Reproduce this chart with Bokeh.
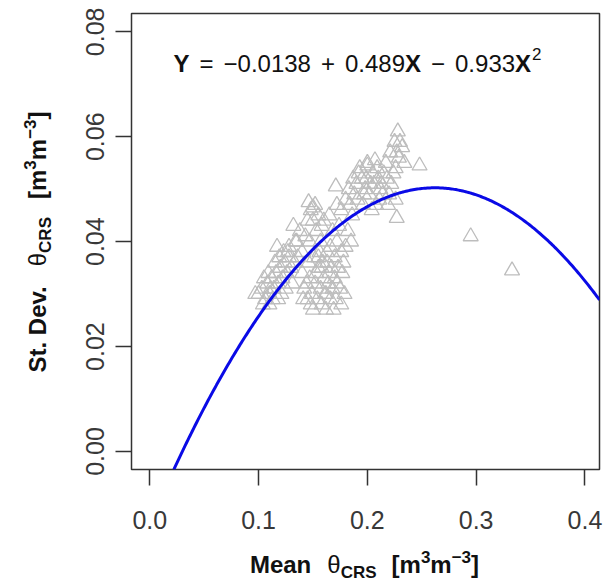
import math
import numpy as np
from bokeh.plotting import figure
from bokeh.models import Range1d, FixedTicker, Label, ColumnDataSource, Div
from bokeh.layouts import row, column
from bokeh.embed import file_html
from bokeh.resources import INLINE

# ---------------- data ----------------
mean_crs = [
    0.228, 0.225, 0.232, 0.221, 0.229, 0.226, 0.234, 0.248,
    0.200, 0.205, 0.195, 0.210, 0.215, 0.198, 0.202, 0.190, 0.188, 0.206,
    0.212, 0.218, 0.222, 0.226, 0.208, 0.196, 0.184, 0.180, 0.192, 0.214,
    0.219, 0.227, 0.200, 0.207, 0.186, 0.176, 0.172,
    0.193, 0.199, 0.203, 0.209, 0.213, 0.217, 0.211, 0.204, 0.191, 0.187,
    0.183, 0.197, 0.220, 0.224, 0.230, 0.227, 0.171,
    0.148, 0.152, 0.145, 0.150, 0.155, 0.158, 0.143, 0.147, 0.153, 0.160,
    0.165, 0.168, 0.138, 0.135, 0.128, 0.132, 0.140, 0.157, 0.146, 0.150,
    0.172, 0.176, 0.180, 0.178, 0.182, 0.174, 0.170, 0.185, 0.166, 0.163,
    0.100, 0.103, 0.106, 0.108, 0.110, 0.112, 0.114, 0.116, 0.118, 0.120,
    0.122, 0.124, 0.126, 0.128, 0.130, 0.115, 0.119, 0.110, 0.113, 0.105,
    0.121, 0.125, 0.127, 0.133, 0.136, 0.118, 0.109, 0.131, 0.123, 0.117,
    0.097, 0.104, 0.111, 0.134,
    0.140, 0.142, 0.145, 0.147, 0.149, 0.150, 0.152, 0.154, 0.155, 0.157,
    0.158, 0.160, 0.161, 0.162, 0.164, 0.165, 0.166, 0.168, 0.170, 0.171,
    0.173, 0.175, 0.177, 0.179, 0.146, 0.151, 0.156, 0.159, 0.163, 0.167,
    0.144, 0.148, 0.153, 0.169, 0.172, 0.176, 0.141, 0.158, 0.162, 0.155,
    0.295, 0.333,
]
sd_crs = [
    0.061, 0.059, 0.058, 0.057, 0.056, 0.054, 0.055, 0.0545,
    0.055, 0.053, 0.052, 0.052, 0.053, 0.050, 0.049, 0.051, 0.049, 0.051,
    0.050, 0.052, 0.051, 0.048, 0.047, 0.047, 0.047, 0.048, 0.053, 0.049,
    0.047, 0.0445, 0.0545, 0.0555, 0.045, 0.046, 0.047,
    0.054, 0.052, 0.051, 0.054, 0.051, 0.055, 0.048, 0.046, 0.048, 0.052,
    0.050, 0.049, 0.049, 0.053, 0.059, 0.057, 0.0505,
    0.046, 0.047, 0.044, 0.044, 0.045, 0.043, 0.041, 0.040, 0.042, 0.044,
    0.045, 0.042, 0.042, 0.040, 0.039, 0.043, 0.038, 0.040, 0.0475, 0.0465,
    0.040, 0.038, 0.039, 0.036, 0.042, 0.043, 0.037, 0.040, 0.039, 0.036,
    0.030, 0.031, 0.029, 0.032, 0.030, 0.033, 0.031, 0.034, 0.032, 0.035,
    0.033, 0.036, 0.034, 0.037, 0.035, 0.036, 0.037, 0.028, 0.029, 0.033,
    0.030, 0.031, 0.038, 0.036, 0.037, 0.029, 0.034, 0.032, 0.038, 0.039,
    0.030, 0.028, 0.031, 0.040,
    0.034, 0.031, 0.029, 0.033, 0.030, 0.027, 0.032, 0.029, 0.035, 0.031,
    0.028, 0.033, 0.030, 0.027, 0.032, 0.034, 0.029, 0.031, 0.033, 0.029,
    0.035, 0.031, 0.034, 0.030, 0.036, 0.037, 0.038, 0.036, 0.038, 0.035,
    0.032, 0.028, 0.034, 0.027, 0.032, 0.028, 0.029, 0.035, 0.030, 0.037,
    0.041, 0.0345,
]
fit_coef = [-0.0138, 0.489, -0.933]   # Y = a + bX + cX^2 (as printed on the chart)
x_ticks = [0.0, 0.1, 0.2, 0.3, 0.4]
x_tick_labels = ["0.0", "0.1", "0.2", "0.3", "0.4"]
y_ticks = [0.00, 0.02, 0.04, 0.06, 0.08]
y_tick_labels = ["0.00", "0.02", "0.04", "0.06", "0.08"]

# ---------------- layout ----------------
W, H = 603, 584
YT_W = 60            # width of the y-title strip
XT_H = 44            # height of the x-title strip
FW, FH = W - YT_W, H - XT_H           # figure size
FL, FR, FT, FB = 131, 599, 13, 469    # frame box in page pixels
X0, X1 = -0.0168, 0.4134
Y0, Y1 = -0.00343, 0.0835


def dx(px):
    return X0 + (px - FL) / (FR - FL) * (X1 - X0)


def dy(py):
    return Y1 - (py - FT) / (FB - FT) * (Y1 - Y0)


p = figure(width=FW, height=FH, output_backend="svg", toolbar_location=None,
           x_range=Range1d(X0, X1), y_range=Range1d(Y0, Y1))
p.min_border_left = FL - YT_W
p.min_border_right = W - FR
p.min_border_top = FT
p.min_border_bottom = FH - FB
p.background_fill_color = "white"
p.border_fill_color = "white"
p.xgrid.visible = False
p.ygrid.visible = False
p.outline_line_color = "#333333"
p.outline_line_width = 1.5

TICK_FONT = "'Liberation Sans', Arial, sans-serif"
for ax, ticks, labels in ((p.xaxis[0], x_ticks, x_tick_labels),
                          (p.yaxis[0], y_ticks, y_tick_labels)):
    ax.ticker = FixedTicker(ticks=ticks)
    ax.major_label_overrides = {t: l for t, l in zip(ticks, labels)}
    ax.minor_tick_line_color = None
    ax.axis_line_color = None
    ax.major_tick_in = 0
    ax.major_tick_out = 16
    ax.major_tick_line_color = "#333333"
    ax.major_tick_line_width = 1.5
    ax.major_label_text_font = TICK_FONT
    ax.major_label_text_font_size = "25px"
    ax.major_label_text_color = "#383838"
p.xaxis.major_label_standoff = 25
p.yaxis.major_label_standoff = 11
p.yaxis.major_label_orientation = "vertical"

# scatter points
src = ColumnDataSource(data=dict(x=mean_crs, y=sd_crs))
p.scatter("x", "y", source=src, marker="triangle", size=15,
          fill_color=None, line_color="#BDBDBD", line_width=1.3)

# fitted curve
a, b, c = fit_coef
x_start = (-b + math.sqrt(b * b - 4 * c * (a - Y0))) / (2 * c)
xf = np.linspace(x_start, X1, 300)
yf = a + b * xf + c * xf ** 2
p.line(xf, yf, line_color="#0A0AE6", line_width=3)

# ---------------- equation (inside the frame) ----------------
REG_W = {'.': 278, ' ': 278, '+': 584, '=': 584, '\u2212': 584, 'Y': 667,
         'X': 667}
BOLD_W = {'X': 667, 'Y': 667}


def text_w(s, bold, size):
    tab = BOLD_W if bold else REG_W
    return sum(tab.get(ch, 556) for ch in s) * size / 1000.0


FONT = "Liberation Sans"
COLOR = "#111111"


def hrow(pieces, start_px, base_py):
    px = start_px
    for txt, bold, size, shift, gap in pieces:
        px += gap
        p.add_layout(Label(x=dx(px), y=dy(base_py + shift),
                           text=txt, text_font=FONT,
                           text_font_size=f"{size}px",
                           text_font_style="bold" if bold else "normal",
                           text_color=COLOR, text_align="left",
                           text_baseline="alphabetic"))
        px += text_w(txt, bold, size)


MS, SS = 24, 17
eq = [("Y", True, MS, 0, 0), ("=", False, MS, 0, 10),
      ("\u22120.0138", False, MS, 0, 10), ("+", False, MS, 0, 10),
      ("0.489", False, MS, 0, 10), ("X", True, MS, 0, 0),
      ("\u2212", False, MS, 0, 10), ("0.933", False, MS, 0, 10),
      ("X", True, MS, 0, 0), ("2", False, SS, -10, 1)]
hrow(eq, 173, 63)

# ---------------- axis titles (rich text) ----------------
SUB = "font-size:17px;position:relative;top:5px;line-height:0;"
SUP = "font-size:17px;position:relative;top:-10px;line-height:0;"


def title_core(gap_theta, gap_unit):
    return (
        f'<span style="font-weight:normal;margin-left:{gap_theta}px;">\u03b8</span>'
        f'<span style="{SUB}">CRS</span>'
        f'<span style="margin-left:{gap_unit}px;">[m</span>'
        f'<span style="{SUP}">3</span>m'
        f'<span style="{SUP}">\u22123</span>]'
    )


BASE = ("font-family:'Liberation Sans',Arial,sans-serif;font-size:24px;"
        "font-weight:bold;line-height:24px;color:#111111;white-space:nowrap;"
        "box-sizing:border-box;")

x_html = (
    f'<div style="position:relative;width:{W}px;height:{XT_H}px;overflow:hidden;">'
    f'<div style="position:absolute;left:0;top:0;width:{W}px;height:{XT_H}px;'
    f'padding-left:126px;padding-top:13px;text-align:center;{BASE}">'
    f'Mean{title_core(16, 15)}</div></div>'
)
# rotated strip: centre of the text at page y = 242, baseline at page x = 46
y_center = 242
y_html = (
    f'<div style="position:relative;width:{YT_W}px;height:{FH}px;overflow:hidden;">'
    f'<div style="position:absolute;left:0;top:0;width:{FH}px;height:{YT_W}px;'
    f'padding-top:26px;text-align:center;{BASE}'
    f'transform-origin:0 0;transform:translate(0px,{FH // 2 + y_center}px) rotate(-90deg);">'
    f'St. Dev.{title_core(20, 18)}</div></div>'
)

div_x = Div(text=x_html, width=W, height=XT_H, margin=0)
div_y = Div(text=y_html, width=YT_W, height=FH, margin=0)

layout = column(row(div_y, p, spacing=0), div_x, spacing=0)

open("out.html", "w").write(file_html(layout, INLINE))
